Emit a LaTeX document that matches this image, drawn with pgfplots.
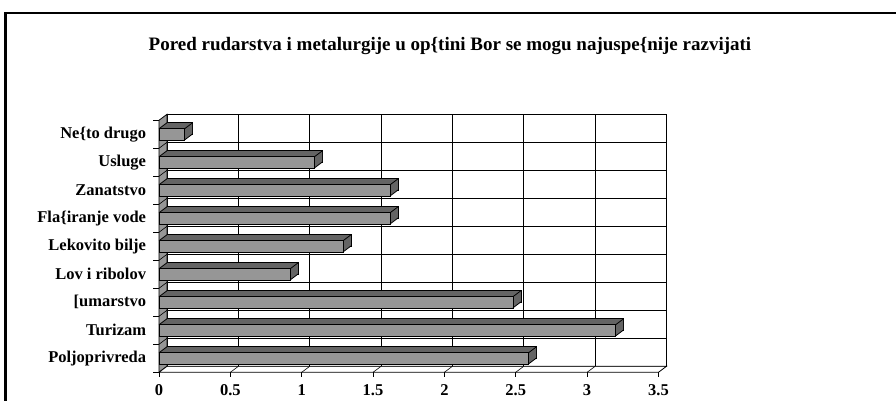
\documentclass[border=0pt]{standalone}
\usepackage{fontspec}
\setmainfont{Liberation Serif}
\usepackage{pgfplots}
\pgfplotsset{compat=1.18}
\usepackage{pgfplotstable}
\definecolor{frontgray}{RGB}{150,150,150}
\definecolor{topgray}{RGB}{100,100,100}
\definecolor{wallgray}{RGB}{150,150,150}

\pgfplotstableread{
y v
0 2.59
1 3.20
2 2.48
3 0.92
4 1.29
5 1.62
6 1.62
7 1.09
8 0.18
}\bardata

\begin{document}
\begin{tikzpicture}[x=1pt,y=1pt]
% frame
\draw[line width=2.5pt] (5.5,-401) -- (5.5,-13.25) -- (896,-13.25);
% title
\node[anchor=base, inner sep=0pt, font=\fontsize{19}{22}\selectfont\bfseries] at (450,-51) {Pored rudarstva i metalurgije u op\{tini Bor se mogu najuspe\{nije razvijati};

% back wall
\begin{axis}[at={(167pt,-366.3pt)}, anchor=south west, x=142.7pt, y=28pt,
  xmin=0, xmax=3.5, ymin=-0.5, ymax=8.5,
  xtick={0,0.5,...,3.5}, ytick={-0.5,0.5,...,8.5},
  xticklabels={}, yticklabels={}, major tick length=0pt,
  grid=major, grid style={black, line width=0.7pt},
  axis line style={black, line width=0.8pt}]
\addplot[draw=none, forget plot] coordinates {(0,0)};
\end{axis}

% left wall
\filldraw[fill=wallgray, draw=black, line width=0.8pt] (159,-372.3) -- (159,-120.3) -- (167,-114.3) -- (167,-366.3) -- cycle;
\foreach \k in {1,...,8} \draw[line width=0.6pt] (159,{-372.3+28*\k}) -- (167,{-366.3+28*\k});
% floor
\filldraw[fill=white, draw=black, line width=0.8pt] (159,-372.3) -- (658.45,-372.3) -- (666.45,-366.3) -- (167,-366.3) -- cycle;
\foreach \j in {1,...,6} \draw[line width=0.6pt] ({159+71.35*\j},-372.3) -- ({167+71.35*\j},-366.3);

% front axis with bars
\begin{axis}[at={(159pt,-372.3pt)}, anchor=south west, x=142.7pt, y=28pt,
  xmin=0, xmax=3.5, ymin=-0.5, ymax=8.5,
  axis line style={draw=none},
  xtick={0,0.5,...,3.5}, ytick={0,...,8},
  yticklabels={Poljoprivreda,Turizam,{[}umarstvo,Lov i ribolov,Lekovito bilje,Fla\{iranje vode,Zanatstvo,Usluge,Ne\{to drugo},
  minor ytick={-0.5,0.5,...,8.5},
  tick align=outside, xtick pos=bottom, ytick pos=left,
  major tick length=4.4pt, minor tick length=6pt,
  major y tick style={draw=none},
  tick style={black, line width=0.8pt},
  tick label style={font=\fontsize{16.5}{19}\selectfont\bfseries},
  xticklabel style={yshift=-4pt},
  yticklabel style={xshift=-5pt},
  /pgf/number format/assume math mode=true,
  clip=false]
\addplot[xbar, bar width=0.4, fill=topgray, draw=black, line width=0.8pt, xshift=8pt, yshift=6pt, forget plot] table[x=v,y=y]{\bardata};
\pgfplotsinvokeforeach{15,14,...,1}{
  \addplot[xbar, bar width=0.4, fill=topgray, draw=none, xshift=#1*0.5pt, yshift=#1*0.375pt, forget plot] table[x=v,y=y]{\bardata};
}
\addplot[xbar, bar width=0.4, fill=frontgray, draw=black, line width=0.8pt, forget plot] table[x=v,y=y]{\bardata};
\addplot[quiver={u=0.05606,v=0.2143}, draw=black, line width=0.8pt, no markers, forget plot] table[x=v, y expr=\thisrow{y}+0.2]{\bardata};
\addplot[quiver={u=0.05606,v=0.2143}, draw=black, line width=0.8pt, no markers, forget plot] table[x=v, y expr=\thisrow{y}-0.2]{\bardata};
\addplot[quiver={u=0.05606,v=0.2143}, draw=black, line width=0.8pt, no markers, forget plot] table[x expr=0, y expr=\thisrow{y}+0.2]{\bardata};
\end{axis}

\pgfresetboundingbox
\path[use as bounding box] (0,0) rectangle (896,-401);
\end{tikzpicture}
\end{document}
